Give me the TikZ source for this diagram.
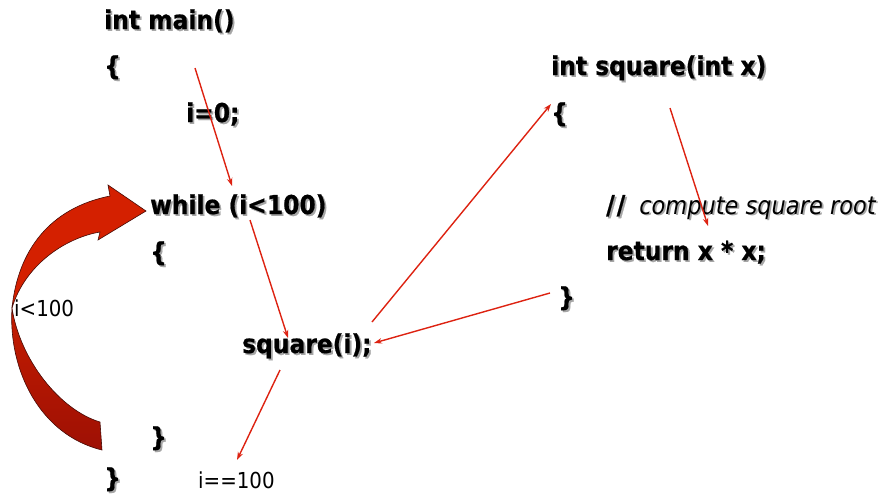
\documentclass[tikz,border=0pt]{standalone}
\usepackage{fontspec}
\setmainfont{DejaVu Sans}[FakeStretch=0.9, BoldFeatures={FakeBold=0.7}]
\usetikzlibrary{arrows.meta}
\definecolor{arr}{RGB}{221,34,17}
\definecolor{bigtop}{RGB}{212,32,0}
\definecolor{bigmid}{RGB}{196,28,0}
\definecolor{bigbot}{RGB}{158,16,4}
\definecolor{bigline}{RGB}{70,10,5}
\newcommand\shd[1]{\makebox[0pt][l]{\hspace{1.8pt}\raisebox{-1.8pt}{\textcolor{black!35}{#1}}}#1}
\begin{document}
\begin{tikzpicture}[x=1pt,y=-1pt,
  code/.style={anchor=base west, inner sep=0pt, font=\fontsize{26}{30}\selectfont\bfseries},
  lbl/.style={anchor=base west, inner sep=0pt, font=\fontsize{22}{26}\selectfont},
  flow/.style={draw=arr, line width=1.4pt, -{Stealth[length=8pt,width=5.5pt]}},
  bigarrow/.style={draw=bigline, line width=0.6pt, line join=miter}]
\useasboundingbox (0,0) rectangle (884,498);

% left column
\node[code] (main)   at (104,29)  {\shd{int main()}};
\node[code] (ob1)    at (104,75)  {\shd{\{}};
\node[code] (init)   at (186,122) {\shd{i=0;}};
\node[code] (while)  at (150,214) {\shd{while (i<100)}};
\node[code] (ob2)    at (150,261) {\shd{\{}};
\node[code] (call)   at (242,353) {\shd{square(i);}};
\node[code] (cb2)    at (150,446) {\shd{\}}};
\node[code] (cb1)    at (104,487) {\shd{\}}};

% right column
\node[code] (sqhead) at (551,75)  {\shd{int square(int x)}};
\node[code] (ob3)    at (551,122) {\shd{\{}};
\node[code] (cmt)    at (606,214) {\shd{/\kern2pt/}\hspace{14pt}{\mdseries\itshape\fontsize{25}{30}\selectfont\shd{compute square root}}};
\node[code] (ret)    at (606,260) {\shd{return x * x;}};
\node[code] (cb3)    at (558,306) {\shd{\}}};

% labels
\node[lbl] (lt)  at (14,316)  {i<100};
\node[lbl] (eq)  at (198,488) {i==100};

% big curved arrow: upper (bright) half
\path[bigarrow, fill=bigtop]
  (12,308) .. controls (18,250) and (50,208) .. (110,196)
  -- (108,185) -- (146,211) -- (98,240) -- (100,232)
  .. controls (65,238) and (25,265) .. (12,308) -- cycle;
% lower (dark) half
\path[bigarrow, top color=bigmid, bottom color=bigbot]
  (12,308) .. controls (8,370) and (40,435) .. (102,450)
  -- (100,422)
  .. controls (60,410) and (20,360) .. (12,308) -- cycle;

% flow connectors
\coordinate (f1s) at (195,68);  \coordinate (f1e) at (232,186);
\coordinate (f2s) at (250,220); \coordinate (f2e) at (288,338);
\coordinate (f3s) at (372,322); \coordinate (f3e) at (551,104);
\coordinate (f4s) at (670,108); \coordinate (f4e) at (708,226);
\coordinate (f5s) at (550,293); \coordinate (f5e) at (374,343);
\coordinate (f6s) at (280,370); \coordinate (f6e) at (237,460);
\draw[flow] (f1s) -- (f1e);
\draw[flow] (f2s) -- (f2e);
\draw[flow] (f3s) -- (f3e);
\draw[flow] (f4s) -- (f4e);
\draw[flow] (f5s) -- (f5e);
\draw[flow] (f6s) -- (f6e);
\end{tikzpicture}
\end{document}
